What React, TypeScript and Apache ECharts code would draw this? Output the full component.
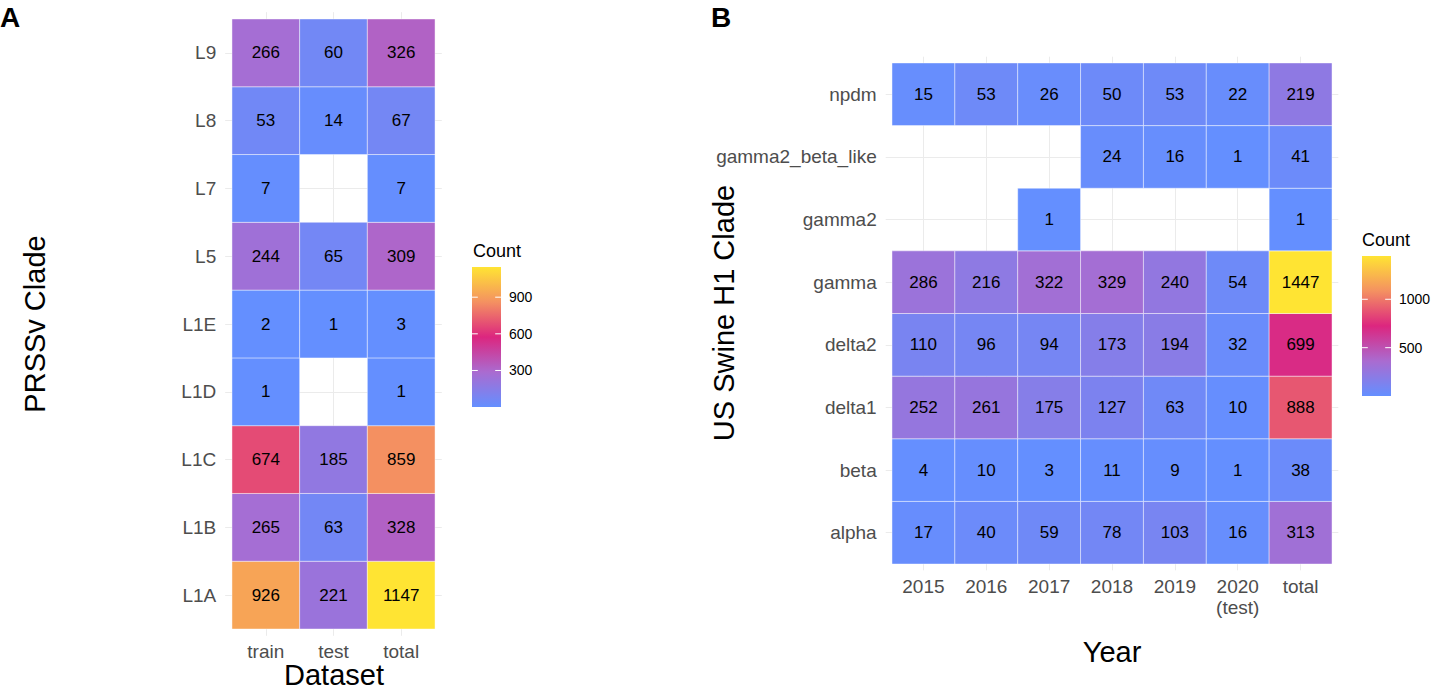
import React, { useEffect, useRef } from 'react';
import * as echarts from 'echarts';

// ---------- Data ----------
const datasetCategories = ['train', 'test', 'total'];
const prrsvClades = ['L1A', 'L1B', 'L1C', 'L1D', 'L1E', 'L5', 'L7', 'L8', 'L9'];
const prrsvTrain = [926, 265, 674, 1, 2, 244, 7, 53, 266];
const prrsvTest = [221, 63, 185, null, 1, 65, null, 14, 60];
const prrsvTotal = [1147, 328, 859, 1, 3, 309, 7, 67, 326];

const yearCategories = ['2015', '2016', '2017', '2018', '2019', '2020\n(test)', 'total'];
const h1Clades = ['alpha', 'beta', 'delta1', 'delta2', 'gamma', 'gamma2', 'gamma2_beta_like', 'npdm'];
const h1Alpha = [17, 40, 59, 78, 103, 16, 313];
const h1Beta = [4, 10, 3, 11, 9, 1, 38];
const h1Delta1 = [252, 261, 175, 127, 63, 10, 888];
const h1Delta2 = [110, 96, 94, 173, 194, 32, 699];
const h1Gamma = [286, 216, 322, 329, 240, 54, 1447];
const h1Gamma2 = [null, null, 1, null, null, null, 1];
const h1Gamma2BetaLike = [null, null, null, 24, 16, 1, 41];
const h1Npdm = [15, 53, 26, 50, 53, 22, 219];

const prrsvRange = [1, 1147];
const h1Range = [1, 1447];
const prrsvLegendTicks = [300, 600, 900];
const h1LegendTicks = [500, 1000];

const palette = ['#648FFF', '#AA6BD0', '#DC267F', '#F49161', '#FFE433'];

const FONT = '"Liberation Sans", Arial, Helvetica, sans-serif';

function buildPrrsv() {
  const cols = [prrsvTrain, prrsvTest, prrsvTotal];
  const out: any[] = [];
  cols.forEach((col, xi) => col.forEach((v, yi) => { if (v != null) out.push([xi, yi, v]); }));
  return out;
}
function buildH1() {
  const rows = [h1Alpha, h1Beta, h1Delta1, h1Delta2, h1Gamma, h1Gamma2, h1Gamma2BetaLike, h1Npdm];
  const out: any[] = [];
  rows.forEach((row, yi) => row.forEach((v, xi) => { if (v != null) out.push([xi, yi, v]); }));
  return out;
}

const tileRender = (params: any, api: any) => {
  const x = api.value(0);
  const y = api.value(1);
  const v = api.value(2);
  const p0 = api.coord([x - 0.5, y + 0.5]);
  const p1 = api.coord([x + 0.5, y - 0.5]);
  return {
    type: 'group',
    children: [
      {
        type: 'rect',
        shape: { x: p0[0], y: p0[1], width: p1[0] - p0[0], height: p1[1] - p0[1] },
        style: { fill: api.visual('color'), stroke: 'rgba(255,255,255,0.55)', lineWidth: 0.8 },
      },
      {
        type: 'text',
        x: (p0[0] + p1[0]) / 2,
        y: (p0[1] + p1[1]) / 2,
        style: { text: String(v), fill: '#000', fontSize: 17, fontFamily: FONT, align: 'center', verticalAlign: 'middle' },
      },
    ],
  };
};

const barRender = (params: any, api: any) => {
  const p0 = api.coord([0, api.value(2)]);
  const p1 = api.coord([1, api.value(1)]);
  return {
    type: 'rect',
    shape: { x: p0[0], y: p0[1], width: p1[0] - p0[0], height: p1[1] - p0[1] },
    style: {
      fill: new echarts.graphic.LinearGradient(0, 1, 0, 0, palette.map((c, i) => ({ offset: i / (palette.length - 1), color: c }))),
    },
  };
};

const tickRender = (params: any, api: any) => {
  const v = api.value(1);
  const a = api.coord([0, v]);
  const b = api.coord([0.2, v]);
  const c = api.coord([0.8, v]);
  const d = api.coord([1, v]);
  return {
    type: 'group',
    children: [
      { type: 'line', shape: { x1: a[0], y1: a[1], x2: b[0], y2: b[1] }, style: { stroke: '#fff', lineWidth: 1 } },
      { type: 'line', shape: { x1: c[0], y1: c[1], x2: d[0], y2: d[1] }, style: { stroke: '#fff', lineWidth: 1 } },
    ],
  };
};

const idx = (arr: any[]) => arr.map((_, i) => i);

export default function App() {
  const ref = useRef<HTMLDivElement>(null);
  useEffect(() => {
    document.body.style.margin = '0';
    const chart = echarts.init(ref.current!, null, { renderer: 'svg' });
    const tickLabel = { color: '#4D4D4D', fontSize: 19, fontFamily: FONT };
    const split = { show: true, lineStyle: { color: '#EBEBEB', width: 1 } };
    const option: any = {
      animation: false,
      backgroundColor: '#fff',
      textStyle: { fontFamily: FONT },
      grid: [
        { left: 225.2, top: 12.2, width: 216.6, height: 623.6, outerBoundsMode: 'none' },
        { left: 885.7, top: 56.7, width: 452.6, height: 513.6, outerBoundsMode: 'none' },
        { left: 472, top: 267, width: 29, height: 140, outerBoundsMode: 'none' },
        { left: 1362, top: 256, width: 29, height: 140, outerBoundsMode: 'none' },
      ],
      xAxis: [
        {
          gridIndex: 0, type: 'value', min: -0.6, max: datasetCategories.length - 0.4,
          axisLine: { show: false },
          axisTick: { show: false, customValues: idx(datasetCategories) },
          axisLabel: { ...tickLabel, margin: 6, customValues: idx(datasetCategories), formatter: (v: number) => datasetCategories[Math.round(v)] },
          splitLine: split,
        },
        {
          gridIndex: 1, type: 'value', min: -0.6, max: yearCategories.length - 0.4,
          axisLine: { show: false },
          axisTick: { show: false, customValues: idx(yearCategories) },
          axisLabel: { ...tickLabel, margin: 6, lineHeight: 21, customValues: idx(yearCategories), formatter: (v: number) => yearCategories[Math.round(v)] },
          splitLine: split,
        },
        { gridIndex: 2, type: 'value', min: 0, max: 1, show: false },
        { gridIndex: 3, type: 'value', min: 0, max: 1, show: false },
      ],
      yAxis: [
        {
          gridIndex: 0, type: 'value', min: -0.6, max: prrsvClades.length - 0.4,
          axisLine: { show: false },
          axisTick: { show: false, customValues: idx(prrsvClades) },
          axisLabel: { ...tickLabel, margin: 9, customValues: idx(prrsvClades), formatter: (v: number) => prrsvClades[Math.round(v)] },
          splitLine: split,
        },
        {
          gridIndex: 1, type: 'value', min: -0.6, max: h1Clades.length - 0.4,
          axisLine: { show: false },
          axisTick: { show: false, customValues: idx(h1Clades) },
          axisLabel: { ...tickLabel, margin: 9, customValues: idx(h1Clades), formatter: (v: number) => h1Clades[Math.round(v)] },
          splitLine: split,
        },
        {
          gridIndex: 2, type: 'value', min: prrsvRange[0], max: prrsvRange[1], position: 'right',
          axisLine: { show: false }, axisTick: { show: false }, splitLine: { show: false },
          axisLabel: { color: '#000', fontSize: 14, fontFamily: FONT, margin: 8, customValues: prrsvLegendTicks, formatter: (v: number) => String(v) },
        },
        {
          gridIndex: 3, type: 'value', min: h1Range[0], max: h1Range[1], position: 'right',
          axisLine: { show: false }, axisTick: { show: false }, splitLine: { show: false },
          axisLabel: { color: '#000', fontSize: 14, fontFamily: FONT, margin: 8, customValues: h1LegendTicks, formatter: (v: number) => String(v) },
        },
      ],
      visualMap: [
        { type: 'continuous', show: false, min: prrsvRange[0], max: prrsvRange[1], dimension: 2, seriesIndex: 0, inRange: { color: palette } },
        { type: 'continuous', show: false, min: h1Range[0], max: h1Range[1], dimension: 2, seriesIndex: 1, inRange: { color: palette } },
      ],
      series: [
        { type: 'custom', xAxisIndex: 0, yAxisIndex: 0, data: buildPrrsv(), encode: { x: 0, y: 1 }, renderItem: tileRender },
        { type: 'custom', xAxisIndex: 1, yAxisIndex: 1, data: buildH1(), encode: { x: 0, y: 1 }, renderItem: tileRender },
        { type: 'custom', xAxisIndex: 2, yAxisIndex: 2, data: [[0, prrsvRange[0], prrsvRange[1]]], encode: { x: 0, y: 1 }, renderItem: barRender, silent: true },
        { type: 'custom', xAxisIndex: 2, yAxisIndex: 2, data: prrsvLegendTicks.map((t) => [0, t]), encode: { x: 0, y: 1 }, renderItem: tickRender, silent: true },
        { type: 'custom', xAxisIndex: 3, yAxisIndex: 3, data: [[0, h1Range[0], h1Range[1]]], encode: { x: 0, y: 1 }, renderItem: barRender, silent: true },
        { type: 'custom', xAxisIndex: 3, yAxisIndex: 3, data: h1LegendTicks.map((t) => [0, t]), encode: { x: 0, y: 1 }, renderItem: tickRender, silent: true },
      ],
      graphic: [
        { type: 'text', left: 0, top: 3, style: { text: 'A', fontSize: 28, fontWeight: 'bold', fontFamily: FONT, fill: '#000' } },
        { type: 'text', left: 711, top: 3, style: { text: 'B', fontSize: 28, fontWeight: 'bold', fontFamily: FONT, fill: '#000' } },
        { type: 'text', x: 334, y: 675, style: { text: 'Dataset', fontSize: 29, fontFamily: FONT, fill: '#000', align: 'center', verticalAlign: 'middle' } },
        { type: 'text', x: 1112, y: 652, style: { text: 'Year', fontSize: 29, fontFamily: FONT, fill: '#000', align: 'center', verticalAlign: 'middle' } },
        { type: 'text', x: 35, y: 324, rotation: Math.PI / 2, style: { text: 'PRSSv Clade', fontSize: 29, fontFamily: FONT, fill: '#000', align: 'center', verticalAlign: 'middle' } },
        { type: 'text', x: 724, y: 313, rotation: Math.PI / 2, style: { text: 'US Swine H1 Clade', fontSize: 29, fontFamily: FONT, fill: '#000', align: 'center', verticalAlign: 'middle' } },
        { type: 'text', x: 473, y: 251, style: { text: 'Count', fontSize: 18, fontFamily: FONT, fill: '#000', align: 'left', verticalAlign: 'middle' } },
        { type: 'text', x: 1362, y: 240, style: { text: 'Count', fontSize: 18, fontFamily: FONT, fill: '#000', align: 'left', verticalAlign: 'middle' } },
      ],
    };
    chart.setOption(option);
    return () => chart.dispose();
  }, []);
  return <div ref={ref} style={{ position: 'absolute', left: 0, top: 0, width: 1434, height: 692 }} />;
}
